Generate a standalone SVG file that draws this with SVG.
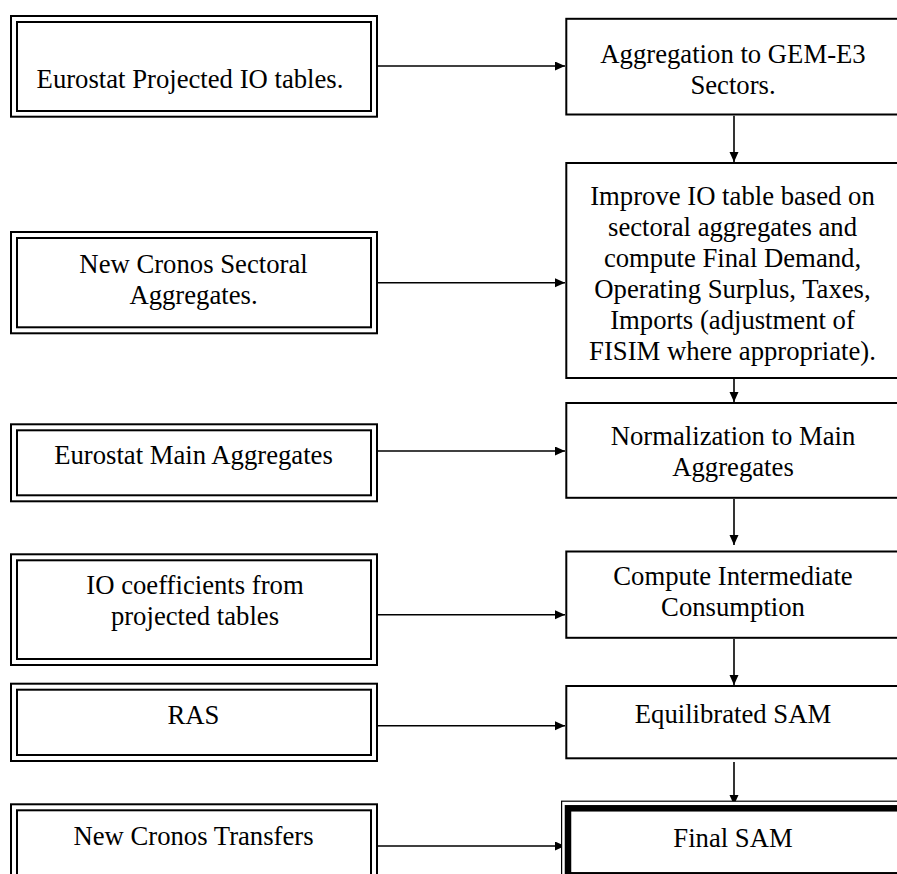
<svg xmlns="http://www.w3.org/2000/svg" width="897" height="874" viewBox="0 0 897 874">
<style>
  .bg { fill: #ffffff; }
  .frame { fill: #ffffff; stroke: #000000; stroke-width: 2; }
  .inner { fill: none; stroke: #000000; stroke-width: 2; }
  .thin { fill: #ffffff; stroke: #000000; stroke-width: 1.2; }
  .thick { fill: #ffffff; stroke: #000000; stroke-width: 6.5; }
  .lbl { font-family: "Liberation Serif", "Times New Roman", serif; font-size: 26.7px; fill: #000000; text-anchor: middle; }
  .conn { fill: none; stroke: #000000; stroke-width: 1.6; }
</style>
<defs>
  <marker id="arrow" markerUnits="userSpaceOnUse" markerWidth="11" markerHeight="10" refX="10" refY="4.5" orient="auto">
    <path d="M0,0 L10,4.5 L0,9 z" fill="#000000"/>
  </marker>
</defs>
<rect class="bg" x="0" y="0" width="897" height="874"/>

<g id="connectors">
  <line class="conn" x1="374" y1="66" x2="565" y2="66" marker-end="url(#arrow)"/>
  <line class="conn" x1="374" y1="282.7" x2="565" y2="282.7" marker-end="url(#arrow)"/>
  <line class="conn" x1="374" y1="451" x2="565" y2="451" marker-end="url(#arrow)"/>
  <line class="conn" x1="374" y1="614.7" x2="565" y2="614.7" marker-end="url(#arrow)"/>
  <line class="conn" x1="374" y1="725.7" x2="565" y2="725.7" marker-end="url(#arrow)"/>
  <line class="conn" x1="374" y1="846" x2="565" y2="846" marker-end="url(#arrow)"/>
  <line class="conn" x1="734" y1="115.7" x2="734" y2="162" marker-end="url(#arrow)"/>
  <line class="conn" x1="734" y1="379" x2="734" y2="402" marker-end="url(#arrow)"/>
  <line class="conn" x1="734" y1="499" x2="734" y2="545" marker-end="url(#arrow)"/>
  <line class="conn" x1="734" y1="639" x2="734" y2="685" marker-end="url(#arrow)"/>
  <line class="conn" x1="734" y1="762" x2="734" y2="805" marker-end="url(#arrow)"/>
</g>

<g id="n-eurostat-io">
  <rect class="frame" x="11" y="16" width="366" height="100.7"/>
  <rect class="inner" x="17" y="22" width="354" height="89"/>
  <text class="lbl" x="190" y="88">Eurostat Projected IO tables.</text>
</g>
<g id="n-cronos-sectoral">
  <rect class="frame" x="11" y="232" width="366" height="101.3"/>
  <rect class="inner" x="17" y="238" width="354" height="89.3"/>
  <text class="lbl" x="193.5" y="273">New Cronos Sectoral</text>
  <text class="lbl" x="193.5" y="304">Aggregates.</text>
</g>
<g id="n-eurostat-main">
  <rect class="frame" x="11" y="424.3" width="366" height="77"/>
  <rect class="inner" x="17" y="430.3" width="354" height="65"/>
  <text class="lbl" x="193.5" y="464">Eurostat Main Aggregates</text>
</g>
<g id="n-io-coeff">
  <rect class="frame" x="11" y="554.3" width="366" height="110.7"/>
  <rect class="inner" x="17" y="560.3" width="354" height="98.7"/>
  <text class="lbl" x="195" y="594">IO coefficients from</text>
  <text class="lbl" x="195" y="625">projected tables</text>
</g>
<g id="n-ras">
  <rect class="frame" x="11" y="683.7" width="366" height="77.3"/>
  <rect class="inner" x="17" y="689.7" width="354" height="65.3"/>
  <text class="lbl" x="193.5" y="724.3">RAS</text>
</g>
<g id="n-cronos-transfers">
  <rect class="frame" x="11" y="804.3" width="366" height="90"/>
  <rect class="inner" x="17" y="810.3" width="354" height="80"/>
  <text class="lbl" x="193.5" y="845">New Cronos Transfers</text>
</g>

<g id="n-aggregation">
  <rect class="frame" x="566.3" y="18.8" width="400" height="95.7"/>
  <text class="lbl" x="733" y="63">Aggregation to GEM-E3</text>
  <text class="lbl" x="733" y="94">Sectors.</text>
</g>
<g id="n-improve">
  <rect class="frame" x="566.3" y="163" width="400" height="215"/>
  <text class="lbl" x="732.5" y="205">Improve IO table based on</text>
  <text class="lbl" x="732.5" y="236">sectoral aggregates and</text>
  <text class="lbl" x="732.5" y="267">compute Final Demand,</text>
  <text class="lbl" x="732.5" y="298">Operating Surplus, Taxes,</text>
  <text class="lbl" x="732.5" y="329">Imports (adjustment of</text>
  <text class="lbl" x="732.5" y="360">FISIM where appropriate).</text>
</g>
<g id="n-normalization">
  <rect class="frame" x="566.3" y="403" width="400" height="94.8"/>
  <text class="lbl" x="733" y="445">Normalization to Main</text>
  <text class="lbl" x="733" y="476">Aggregates</text>
</g>
<g id="n-intermediate">
  <rect class="frame" x="566.3" y="551.5" width="400" height="86.3"/>
  <text class="lbl" x="733" y="585">Compute Intermediate</text>
  <text class="lbl" x="733" y="616">Consumption</text>
</g>
<g id="n-equilibrated">
  <rect class="frame" x="566.3" y="686" width="400" height="72.3"/>
  <text class="lbl" x="733" y="723">Equilibrated SAM</text>
</g>
<g id="n-final">
  <rect class="thin" x="561.6" y="801.2" width="400" height="90"/>
  <rect class="thick" x="568" y="808.3" width="400" height="67"/>
  <text class="lbl" x="733" y="847">Final SAM</text>
</g>
</svg>
